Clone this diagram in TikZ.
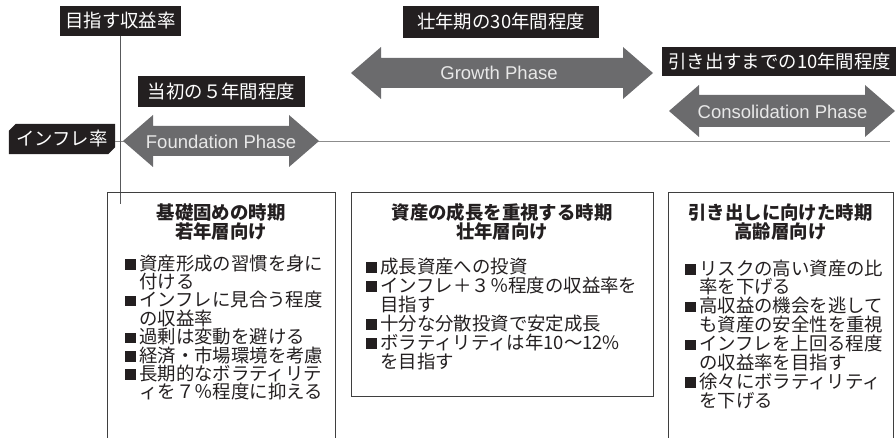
\documentclass[tikz,border=0pt]{standalone}
\usepackage{fontspec}
\setmainfont{Noto Sans CJK JP}
\newfontfamily\lat{Liberation Sans}
\usetikzlibrary{backgrounds,calc}
\definecolor{blk}{HTML}{231F20}
\definecolor{agray}{HTML}{6B6B6D}
\definecolor{atext}{HTML}{E8E8E8}
\definecolor{lgray}{HTML}{8C8C8C}
\definecolor{vgray}{HTML}{58595B}
\definecolor{bordc}{HTML}{3F3F3F}
\newcommand{\bulit}[1]{\noindent\makebox[14pt][l]{\rule[0.5pt]{10.5pt}{10.5pt}}#1\par}
\newcommand{\contl}[1]{\noindent\hspace*{14pt}#1\par}
\newcommand{\dblarr}[6]{\fill[agray] (#1,#3) -- (#1+#6,#3-#5) -- (#1+#6,#3-#4) -- (#2-#6,#3-#4) -- (#2-#6,#3-#5) -- (#2,#3) -- (#2-#6,#3+#5) -- (#2-#6,#3+#4) -- (#1+#6,#3+#4) -- (#1+#6,#3+#5) -- cycle;}
\begin{document}
\begin{tikzpicture}[x=1pt,y=-1pt,
  lab/.style={fill=blk, text=white, inner sep=0pt, font=\fontsize{18.4}{20}\selectfont, minimum height=30},
  ptext/.style={text=atext, inner sep=0pt, font=\lat\fontsize{18.5}{20}\selectfont},
  boxst/.style={draw=bordc, line width=0.9pt, inner sep=0pt, anchor=north west},
  ttl/.style={text=blk, inner sep=0pt, font=\bfseries\fontsize{18.4}{19}\selectfont, anchor=base},
  lst/.style={text=blk, inner sep=0pt, anchor=base west}]
\useasboundingbox (0,0) rectangle (896,438);

% labels
\node[lab, minimum width=121] (target) at (120.5,21) {目指す収益率};
\node[lab, minimum width=167, minimum height=31] (early) at (221.5,91.5) {当初の５年間程度};
\node[lab, minimum width=196, minimum height=32] (mid) at (501,22) {壮年期の30年間程度};
\node[lab, anchor=west, inner xsep=6pt, minimum height=29] (late) at (662,61.5) {引き出すまでの10年間程度};
\node[text=white, inner sep=0pt, minimum width=106, minimum height=30, font=\fontsize{18.4}{20}\selectfont] (infl) at (62,139) {インフレ率};
\begin{scope}[on background layer]
\fill[blk] ($(infl.north west)+(0,7)$) -- ($(infl.north west)+(7,0)$) -- (infl.north east) -- ($(infl.south east)+(0,-7)$) -- ($(infl.south east)+(-7,0)$) -- (infl.south west) -- cycle;
\end{scope}

% lines
\coordinate (hend) at (890,141);
\coordinate (vend) at (120.5,204);
\draw[lgray, line width=0.9pt] (infl.east |- hend) -- (hend);
\draw[vgray, line width=0.9pt] (target.south) -- (vend);

% phase arrows
\dblarr{123}{319}{141}{15}{26}{30}
\dblarr{351}{653}{73}{15}{26}{30}
\dblarr{669}{895}{111}{16}{26}{30}
\node[ptext] (fp) at (221,142) {Foundation Phase};
\node[ptext] (gp) at (499,73) {Growth Phase};
\node[ptext] (cp) at (782.5,112) {Consolidation Phase};

% boxes
\node[boxst, minimum width=228, minimum height=258] (box1) at (107,192) {};
\node[boxst, minimum width=302, minimum height=204] (box2) at (351,192) {};
\node[boxst, minimum width=225, minimum height=258] (box3) at (668,192) {};

% titles
\node[ttl] (t1a) at (221,220) {基礎固めの時期};
\node[ttl] (t1b) at (221,239) {若年層向け};
\node[ttl] (t2a) at (502,220) {資産の成長を重視する時期};
\node[ttl] (t2b) at (502,239) {壮年層向け};
\node[ttl] (t3a) at (780.5,220) {引き出しに向けた時期};
\node[ttl] (t3b) at (780.5,239) {高齢層向け};

% lists
\node[lst] (l1) at (125,270) {\parbox[t]{220pt}{\fontsize{18.4}{18.4}\selectfont
\bulit{資産形成の習慣を身に}
\contl{付ける}
\bulit{インフレに見合う程度}
\contl{の収益率}
\bulit{過剰は変動を避ける}
\bulit{経済・市場環境を考慮}
\bulit{長期的なボラティリテ}
\contl{ィを７％程度に抑える}
}};
\node[lst] (l2) at (366,273) {\parbox[t]{290pt}{\fontsize{18.4}{19}\selectfont
\bulit{成長資産への投資}
\bulit{インフレ＋３％程度の収益率を}
\contl{目指す}
\bulit{十分な分散投資で安定成長}
\bulit{ボラティリティは年10〜12\%}
\contl{を目指す}
}};
\node[lst] (l3) at (685,275) {\parbox[t]{210pt}{\fontsize{18.4}{18.9}\selectfont
\bulit{リスクの高い資産の比}
\contl{率を下げる}
\bulit{高収益の機会を逃して}
\contl{も資産の安全性を重視}
\bulit{インフレを上回る程度}
\contl{の収益率を目指す}
\bulit{徐々にボラティリティ}
\contl{を下げる}
}};
\end{tikzpicture}
\end{document}
